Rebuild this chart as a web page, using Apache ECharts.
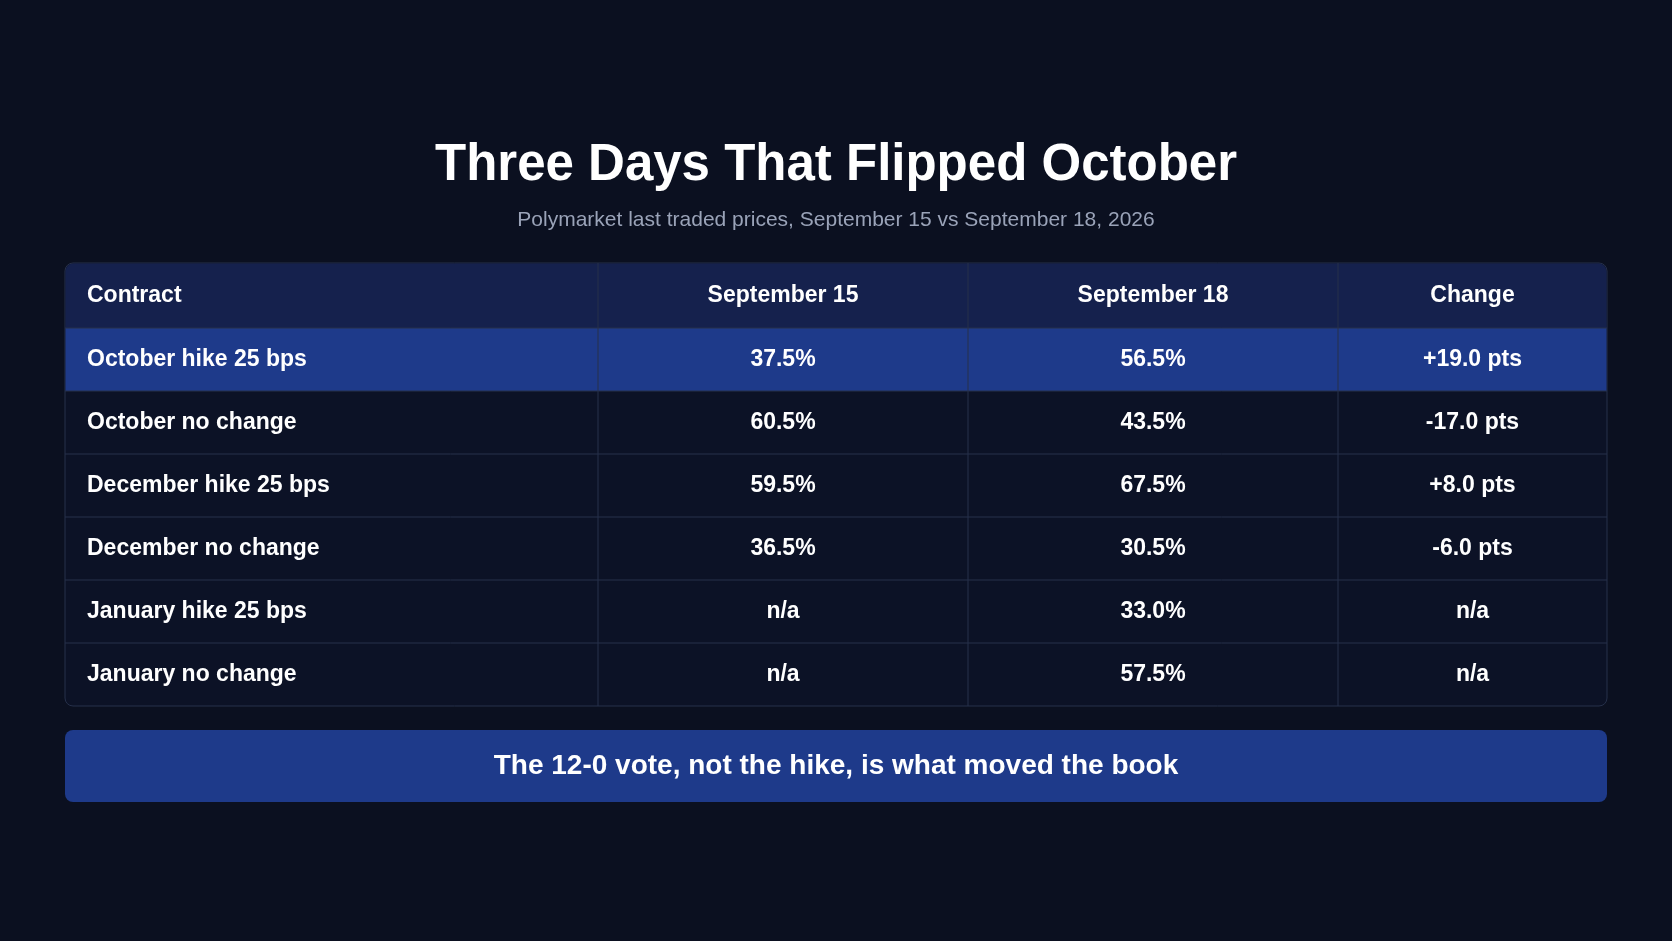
<!DOCTYPE html>
<html><head><meta charset="utf-8">
<script src="https://cdn.jsdelivr.net/npm/echarts@6/dist/echarts.min.js"></script>
<style>html,body{margin:0;padding:0;background:#0b1020}#c{width:1672px;height:941px}</style>
</head><body><div id="c"></div>
<script>
const headers = ["Contract","September 15","September 18","Change"];
const contracts = ["October hike 25 bps","October no change","December hike 25 bps","December no change","January hike 25 bps","January no change"];
const sep15 = ["37.5%","60.5%","59.5%","36.5%","n/a","n/a"];
const sep18 = ["56.5%","43.5%","67.5%","30.5%","33.0%","57.5%"];
const change = ["+19.0 pts","-17.0 pts","+8.0 pts","-6.0 pts","n/a","n/a"];
const highlightRow = 0;
const title = "Three Days That Flipped October";
const subtitle = "Polymarket last traded prices, September 15 vs September 18, 2026";
const footer = "The 12-0 vote, not the hike, is what moved the book";

const F = '"Liberation Sans", Arial, sans-serif';
const X0 = 65, X1 = 1607, Y0 = 263, HH = 65, RH = 63;
const colX = [X0, 598, 968, 1338, X1];
const els = [];
els.push({type:'text', left:'center', top:140, style:{text:title, fill:'#ffffff', font:'bold 51px '+F}});
els.push({type:'text', left:'center', top:210, style:{text:subtitle, fill:'#9aa3b8', font:'21px '+F}});
const total = HH + RH*contracts.length;
// table background
els.push({type:'rect', shape:{x:X0,y:Y0,width:X1-X0,height:total,r:8}, style:{fill:'#0c1226', stroke:'#26304a', lineWidth:1}});
els.push({type:'rect', shape:{x:X0+0.5,y:Y0+0.5,width:X1-X0-1,height:HH,r:[8,8,0,0]}, style:{fill:'#15214d'}});
const rows = contracts.map((c,i)=>[c, sep15[i], sep18[i], change[i]]);
rows.forEach((r,i)=>{
  const y = Y0 + HH + i*RH;
  if (i===highlightRow) els.push({type:'rect', shape:{x:X0+0.5,y:y,width:X1-X0-1,height:RH}, style:{fill:'#1e3a8a'}});
  if (i>0) els.push({type:'line', shape:{x1:X0,y1:y,x2:X1,y2:y}, style:{stroke:'#26304a',lineWidth:1}});
});
els.push({type:'line', shape:{x1:X0,y1:Y0+HH,x2:X1,y2:Y0+HH}, style:{stroke:'#26304a',lineWidth:1}});
for (let k=1;k<4;k++) els.push({type:'line', shape:{x1:colX[k],y1:Y0,x2:colX[k],y2:Y0+total}, style:{stroke:'#26304a',lineWidth:1}});
function cell(txt, k, yc){
  if (k===0) els.push({type:'text', x:X0+22, y:yc, style:{text:txt, fill:'#fff', font:'bold 23px '+F, textVerticalAlign:'middle', textAlign:'left'}});
  else els.push({type:'text', x:(colX[k]+colX[k+1])/2, y:yc, style:{text:txt, fill:'#fff', font:'bold 23px '+F, textVerticalAlign:'middle', textAlign:'center'}});
}
headers.forEach((h,k)=>cell(h,k,Y0+HH/2));
rows.forEach((r,i)=>r.forEach((t,k)=>cell(t,k,Y0+HH+i*RH+RH/2)));
els.push({type:'rect', shape:{x:X0,y:730,width:X1-X0,height:72,r:8}, style:{fill:'#1e3a8a'}});
els.push({type:'text', x:(X0+X1)/2, y:766, style:{text:footer, fill:'#fff', font:'bold 28px '+F, textAlign:'center', textVerticalAlign:'middle'}});
const chart = echarts.init(document.getElementById('c'));
chart.setOption({backgroundColor:'#0b1020', graphic:{elements:els}});
</script></body></html>
